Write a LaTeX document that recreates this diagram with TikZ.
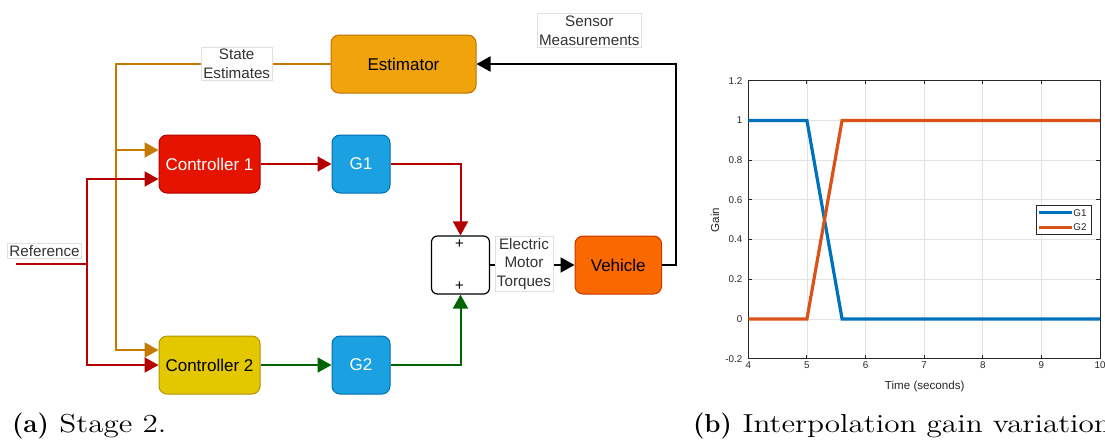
\documentclass[tikz,border=0pt]{standalone}
\usepackage{fontspec}
\newfontfamily\diofont{Liberation Sans}
\newfontfamily\capfont[FakeStretch=1.2]{Latin Modern Roman}
\usetikzlibrary{arrows.meta,positioning}

\definecolor{estfill}{HTML}{F0A30A}
\definecolor{estline}{HTML}{BD7000}
\definecolor{ctlAfill}{HTML}{E51400}
\definecolor{ctlAline}{HTML}{B20000}
\definecolor{ctlBfill}{HTML}{E3C800}
\definecolor{ctlBline}{HTML}{B09500}
\definecolor{gainfill}{HTML}{1BA1E2}
\definecolor{gainline}{HTML}{006EAF}
\definecolor{vehfill}{HTML}{FA6800}
\definecolor{vehline}{HTML}{C73500}
\definecolor{refred}{HTML}{B40000}
\definecolor{estorange}{HTML}{C47A00}
\definecolor{outgreen}{HTML}{006400}
\definecolor{mlblue}{HTML}{0072BD}
\definecolor{mlorange}{HTML}{D95319}
\definecolor{mlaxis}{HTML}{262626}
\definecolor{mlgrid}{HTML}{E3E3E3}

\begin{document}
\begin{tikzpicture}[
x=0.5pt, y=-0.5pt,
block/.style={draw, rounded corners=4pt, line width=0.5pt, align=center, minimum height=29pt, inner sep=1pt, font=\diofont\fontsize{8.5}{10}\selectfont},
sig/.style={draw=black!12, fill=white, align=center, inner sep=1pt, text=black!80, font=\diofont\fontsize{7.6}{9.3}\selectfont},
arr/.style={-{Triangle[length=7pt,width=7.5pt]}, line width=1pt},
ticklbl/.style={inner sep=0pt, text=mlaxis, font=\diofont\fontsize{4.9}{5.5}\selectfont},
caption/.style={anchor=base west, inner sep=0pt, font=\fontsize{13}{15}\selectfont}
]
\clip (0,0) rectangle (1105,441);

% blocks
\node[block, fill=estfill, draw=estline, minimum width=72.5pt] (est) at (403.5,64) {Estimator};
\node[block, fill=ctlAfill, draw=ctlAline, text=white, minimum width=50.5pt] (ctlA) at (209.5,164) {Controller 1};
\node[block, fill=gainfill, draw=gainline, text=white, minimum width=29pt, right=35.5pt of ctlA] (gA) {G1};
\node[block, fill=ctlBfill, draw=ctlBline, minimum width=50.5pt] (ctlB) at (209.5,365) {Controller 2};
\node[block, fill=gainfill, draw=gainline, text=white, minimum width=29pt, right=35.5pt of ctlB] (gB) {G2};
\node[block, fill=white, draw=black, rounded corners=3pt, line width=0.6pt, minimum width=29pt] (sum) at (460.5,265) {};
\node[inner sep=0pt, font=\diofont\fontsize{7.5}{8}\selectfont] (plusA) at (459.5,244) {+};
\node[inner sep=0pt, font=\diofont\fontsize{7.5}{8}\selectfont] (plusB) at (459.5,286) {+};
\node[block, fill=vehfill, draw=vehline, minimum width=43.3pt] (veh) at (618.3,265) {Vehicle};

% connectors
\coordinate (refIn) at (16,264);
\coordinate (refFork) at (87,264);
\coordinate (estFork) at (116,64);
\coordinate (inA1) at ([yshift=7pt]ctlA.west);
\coordinate (inA2) at ([yshift=-7.5pt]ctlA.west);
\coordinate (inB1) at ([yshift=7.5pt]ctlB.west);
\draw[arr, estorange] (est.west) -- (estFork) |- (inB1);
\draw[arr, estorange] (estFork |- inA1) -- (inA1);
\draw[refred, line width=1pt] (refIn) -- (refFork);
\draw[arr, refred] (refFork) |- (inA2);
\draw[arr, refred] (refFork) |- (ctlB.west);
\draw[arr, refred] (ctlA) -- (gA);
\draw[arr, refred] (gA.east) -| (sum.north);
\draw[arr, outgreen] (ctlB) -- (gB);
\draw[arr, outgreen] (gB.east) -| (sum.south);
\draw[arr] (sum) -- (veh);
\draw[arr] (veh.east) -- ++(14,0) |- (est.east);

% signal labels
\node[sig] (stLbl) at (236.7,64) {State\\Estimates};
\node[sig] (refLbl) at (44.5,251) {Reference};
\node[sig] (emtLbl) at (524,264) {Electric\\Motor\\Torques};
\node[sig] (senLbl) at (589.3,30.5) {Sensor\\Measurements};

% gain plot
\begin{scope}[shift={(748.3,319)}, x=29.31pt, y=99.3pt, shift={(-4,0)}]
\foreach \t in {5,...,9}
  \draw[mlgrid, line width=0.4pt] (\t,-0.2) -- (\t,1.2);
\foreach \g in {0,0.2,0.4,0.6,0.8,1}
  \draw[mlgrid, line width=0.4pt] (4,\g) -- (10,\g);
\draw[mlaxis, line width=0.5pt] (4,-0.2) rectangle (10,1.2);
\foreach \t in {5,...,9} {
  \draw[mlaxis, line width=0.5pt] (\t,-0.2) -- ++(0,1.8pt);
  \draw[mlaxis, line width=0.5pt] (\t,1.2) -- ++(0,-1.8pt);
}
\foreach \g in {0,0.2,0.4,0.6,0.8,1} {
  \draw[mlaxis, line width=0.5pt] (4,\g) -- ++(1.8pt,0);
  \draw[mlaxis, line width=0.5pt] (10,\g) -- ++(-1.8pt,0);
}
\foreach \g in {-0.2,0,0.2,0.4,0.6,0.8,1,1.2}
  \node[ticklbl, anchor=east] at ([xshift=-2.8pt]4,\g) {\g};
\foreach \t in {4,...,10}
  \node[ticklbl, anchor=north] at ([yshift=-1.2pt]\t,-0.2) {\t};
\draw[mlblue, line width=1.6pt] (4,1) -- (5,1) -- (5.6,0) -- (10,0);
\draw[mlorange, line width=1.6pt] (4,0) -- (5,0) -- (5.6,1) -- (10,1);
\end{scope}
\node[ticklbl, font=\diofont\fontsize{5.8}{6.5}\selectfont] (tLbl) at (924.7,386) {Time (seconds)};
\node[ticklbl, rotate=90, font=\diofont\fontsize{5.8}{6.5}\selectfont] (gLbl) at (715,220) {Gain};

% legend
\node[draw=mlaxis, fill=white, line width=0.5pt, minimum width=27.8pt, minimum height=14.6pt, inner sep=0pt] (legend) at (1063.8,219.6) {};
\draw[mlblue, line width=1.6pt] (1039.3,212.7) -- (1071.7,212.7);
\draw[mlorange, line width=1.6pt] (1039.3,227.3) -- (1071.7,227.3);
\node[ticklbl, anchor=west] (legA) at (1073,212.7) {G1};
\node[ticklbl, anchor=west] (legB) at (1073,227.3) {G2};

% captions
\node[caption] (capA) at (11.7,432.7) {\textbf{(a)}\hspace{0.4em}{\capfont Stage 2.}};
\node[caption] (capB) at (692.7,432.7) {\textbf{(b)}\hspace{0.4em}{\capfont Interpolation gain variation}};
\end{tikzpicture}
\end{document}
